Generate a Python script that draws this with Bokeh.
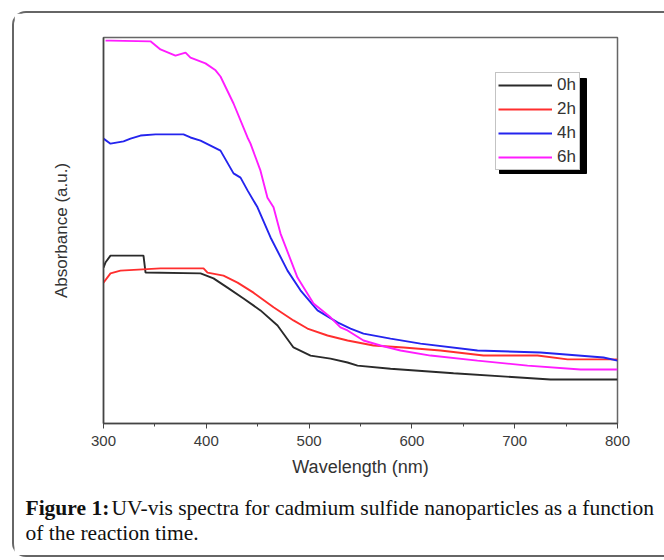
from bokeh.plotting import figure
from bokeh.layouts import column, row
from bokeh.models import Range1d, FixedTicker, Legend, LegendItem
from bokeh.core.properties import value
from bokeh.embed import file_html
from bokeh.resources import INLINE

# ---- data (absorbance in arbitrary units) ----
wl_0h = [300, 301.9, 306.8, 338.9, 340.9, 394.4, 407.0, 420.6, 436.2, 452.7,
         469.3, 484.8, 501.4, 520.8, 537.4, 547.1, 579.2, 640.5, 734.8, 800]
abs_0h = [0.404, 0.417, 0.435, 0.435, 0.391, 0.389, 0.376, 0.352, 0.324, 0.293,
          0.254, 0.197, 0.176, 0.168, 0.158, 0.150, 0.142, 0.130, 0.114, 0.114]

wl_2h = [300, 306.8, 316.5, 355.4, 397.3, 401.2, 416.7, 430.4, 445.9, 465.4,
         484.8, 498.4, 517.9, 537.4, 562.6, 591.8, 627.8, 669.6, 722.2, 751.4, 800]
abs_2h = [0.365, 0.389, 0.396, 0.402, 0.402, 0.391, 0.383, 0.365, 0.339, 0.301,
          0.267, 0.246, 0.228, 0.215, 0.202, 0.197, 0.189, 0.176, 0.176, 0.166, 0.166]

wl_4h = [300, 306.8, 319.5, 326.3, 336.0, 350.6, 377.8, 384.6, 394.4, 404.1,
         413.8, 426.5, 433.3, 440.1, 449.8, 462.5, 479.0, 491.6, 508.2, 527.6,
         540.3, 552.9, 579.2, 608.4, 663.8, 725.1, 786.4, 800]
abs_4h = [0.738, 0.725, 0.731, 0.738, 0.746, 0.749, 0.749, 0.741, 0.733, 0.720,
          0.707, 0.648, 0.637, 0.604, 0.560, 0.482, 0.396, 0.345, 0.293, 0.262,
          0.246, 0.233, 0.220, 0.207, 0.189, 0.184, 0.171, 0.163]

wl_6h = [302, 306.8, 345.7, 355.4, 370.0, 379.8, 384.6, 399.2, 409.0, 413.8,
         426.5, 440.1, 443.0, 452.7, 459.5, 465.4, 472.2, 488.7, 504.3, 520.8,
         530.5, 537.4, 552.9, 569.5, 588.9, 618.1, 663.8, 712.5, 764.0, 800]
abs_6h = [0.992, 0.992, 0.990, 0.969, 0.953, 0.961, 0.948, 0.933, 0.915, 0.899,
          0.829, 0.741, 0.725, 0.655, 0.585, 0.560, 0.492, 0.378, 0.311, 0.275,
          0.249, 0.241, 0.215, 0.202, 0.189, 0.176, 0.163, 0.150, 0.140, 0.140]

series_labels = ["0h", "2h", "4h", "6h"]
x_ticks = [300, 400, 500, 600, 700, 800]
x_minor_ticks = [350, 450, 550, 650, 750]

caption_bold = "Figure 1:"
caption_line1 = "UV-vis spectra for cadmium sulfide nanoparticles as a function"
caption_line2 = "of the reaction time."

SANS = "Liberation Sans"
SERIF = "Liberation Serif"

# ---------------- chart ----------------
p = figure(width=650, height=467, output_backend="svg", toolbar_location=None,
           x_range=Range1d(300, 800), y_range=Range1d(0, 1),
           min_border_left=89, min_border_right=47, min_border_top=24,
           min_border_bottom=57, background_fill_color="white",
           border_fill_color="white")
p.grid.visible = False
p.outline_line_color = "#666666"
p.outline_line_width = 1.5

colors = ["#2a2a2a", "#ff2e2e", "#2424ee", "#ff1cff"]
series = [(wl_0h, abs_0h), (wl_2h, abs_2h), (wl_4h, abs_4h), (wl_6h, abs_6h)]
renderers = []
for (xs, ys), c in zip(series, colors):
    renderers.append(p.line(xs, ys, line_color=c, line_width=1.9))

xa = p.xaxis[0]
xa.ticker = FixedTicker(ticks=x_ticks, minor_ticks=x_minor_ticks)
xa.axis_line_color = "#444444"
xa.axis_line_width = 1.5
xa.major_tick_line_color = "#444444"
xa.minor_tick_line_color = "#444444"
xa.major_tick_out = 5
xa.major_tick_in = 0
xa.minor_tick_out = 3
xa.minor_tick_in = 0
xa.major_label_text_font = SANS
xa.major_label_text_font_size = "15px"
xa.major_label_text_color = "#3a3a3a"
xa.major_label_standoff = 7
xa.axis_label = "Wavelength (nm)"
xa.axis_label_text_font = SANS
xa.axis_label_text_font_style = "normal"
xa.axis_label_text_font_size = "18px"
xa.axis_label_text_color = "#333333"
xa.axis_label_standoff = 8

ya = p.yaxis[0]
ya.ticker = FixedTicker(ticks=[])
ya.axis_line_color = "#444444"
ya.axis_line_width = 1.5
ya.major_tick_out = 0
ya.major_tick_in = 0
ya.minor_tick_out = 0
ya.minor_tick_in = 0
ya.major_label_standoff = 0
ya.axis_label = "Absorbance (a.u.)"
ya.axis_label_text_font = SANS
ya.axis_label_text_font_style = "normal"
ya.axis_label_text_font_size = "17px"
ya.axis_label_text_color = "#333333"
ya.axis_label_standoff = 33

# legend drop shadow (frame pixel helpers -> data coords of the fixed ranges)
def px_x(px):
    return 300 + (px - 103) / 514 * 500

def px_y(py):
    return (423 - py) / 386

p.quad(left=[px_x(499)], right=[px_x(586)], top=[px_y(78)], bottom=[px_y(173)],
       fill_color="black", line_color="black")

legend = Legend(items=[LegendItem(label=l, renderers=[r])
                       for l, r in zip(series_labels, renderers)],
                location=(392, 253))
legend.label_text_font = SANS
legend.label_text_font_size = "17px"
legend.label_text_color = "#333333"
legend.glyph_width = 54
legend.glyph_height = 18
legend.label_height = 18
legend.label_standoff = 5
legend.spacing = 4
legend.padding = 2
legend.margin = 0
legend.border_line_color = "#888888"
legend.border_line_width = 1
legend.background_fill_color = "white"
legend.background_fill_alpha = 1
p.add_layout(legend)

# ---------------- caption ----------------
cap = figure(width=650, height=75, output_backend="svg", toolbar_location=None,
             x_range=Range1d(0, 650), y_range=Range1d(75, 0),
             x_axis_type=None, y_axis_type=None,
             min_border_left=0, min_border_right=0, min_border_top=0,
             min_border_bottom=0, background_fill_color="white",
             border_fill_color="white")
cap.grid.visible = False
cap.outline_line_color = None
cap.text(x=[11], y=[27], text=[caption_bold], text_font=value(SERIF),
         text_font_style="bold", text_font_size="21.5px", text_color="#111111",
         text_baseline="middle")
cap.text(x=[97], y=[27], text=[caption_line1], text_font=value(SERIF),
         text_font_size="21.5px", text_color="#111111", text_baseline="middle")
cap.text(x=[11], y=[52], text=[caption_line2], text_font=value(SERIF),
         text_font_size="21.5px", text_color="#111111", text_baseline="middle")

layout = column(row(p), row(cap), margin=(11, 0, 0, 12), spacing=0,
                styles={"border-top": "2px solid #666666",
                        "border-left": "2px solid #666666",
                        "border-bottom": "2px solid #666666",
                        "border-radius": "14px 0 0 14px",
                        "background-color": "white"})

open("out.html", "w").write(file_html(layout, INLINE))
